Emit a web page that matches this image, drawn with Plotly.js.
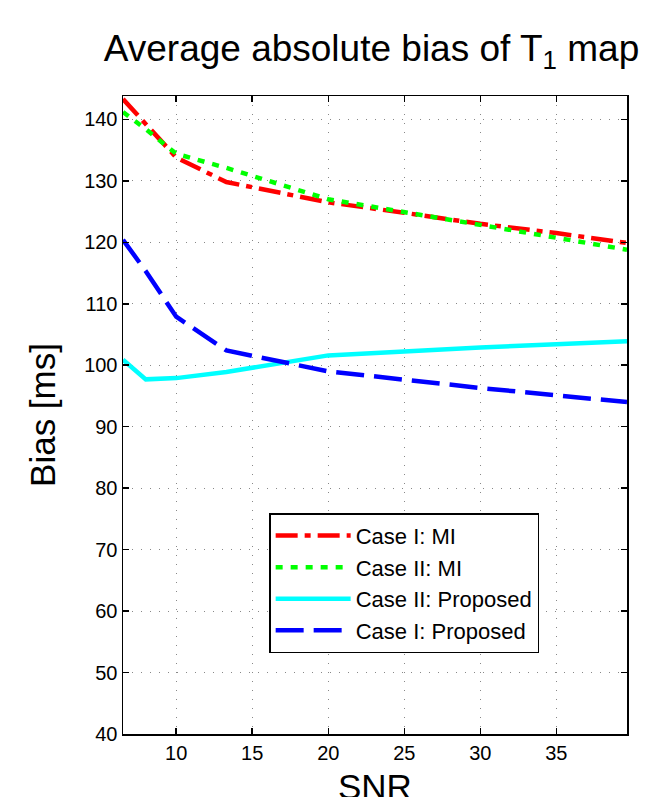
<!DOCTYPE html>
<html>
<head>
<meta charset="utf-8">
<script src="https://cdn.plot.ly/plotly-3.0.1.min.js"></script>
<style>html,body{margin:0;padding:0;background:#fff;}#chart{width:652px;height:797px;}</style>
</head>
<body>
<div id="chart"></div>
<script>
// SNR values
const snr = [6.5, 8, 10, 13.3, 20, 25, 30, 35, 39.65];
// Bias [ms]
const caseIMI = [143.3, 139.2, 133.8, 129.8, 126.5, 124.8, 123.0, 121.5, 119.9];
const caseIIMI = [141.2, 138.4, 134.4, 132.1, 127.0, 124.9, 122.7, 120.7, 118.8];
const caseIIProposed = [100.9, 97.7, 97.9, 98.9, 101.6, 102.3, 102.9, 103.4, 103.9];
const caseIProposed = [120.4, 115.3, 107.9, 102.4, 99.0, 97.6, 96.3, 95.1, 94.0];
const seriesNames = ['Case I: MI', 'Case II: MI', 'Case II: Proposed', 'Case I: Proposed'];
const xTicks = [10, 15, 20, 25, 30, 35];
const yTicks = [40, 50, 60, 70, 80, 90, 100, 110, 120, 130, 140];

const FONT = 'Liberation Sans, Arial, Helvetica, sans-serif';
const traces = [
  {x: snr, y: caseIMI, name: seriesNames[0], mode: 'lines',
   line: {color: '#ff0000', width: 4.5, dash: '22px,7px,6px,7px'}},
  {x: snr, y: caseIIMI, name: seriesNames[1], mode: 'lines',
   line: {color: '#00ff00', width: 4.5, dash: '7px,8px'}},
  {x: snr, y: caseIIProposed, name: seriesNames[2], mode: 'lines',
   line: {color: '#00ffff', width: 4.5}},
  {x: snr, y: caseIProposed, name: seriesNames[3], mode: 'lines',
   line: {color: '#0000ff', width: 4.5, dash: '28px,10px'}}
];

const axisCommon = {
  showline: true, linecolor: '#000', linewidth: 1.5, mirror: 'allticks',
  ticks: 'inside', ticklen: 6, tickwidth: 1.5, tickcolor: '#000',
  showgrid: true, gridcolor: '#888', gridwidth: 1, griddash: '1px,8px',
  zeroline: false, tickfont: {family: FONT, size: 20, color: '#000'}
};

const layout = {
  width: 652, height: 797,
  margin: {l: 123, r: 25, t: 96, b: 63},
  paper_bgcolor: '#fff', plot_bgcolor: '#fff',
  title: {text: 'Average absolute bias of T<sub>1</sub> map', font: {family: FONT, size: 37, color: '#000'},
          x: 0.493, xref: 'paper', xanchor: 'center', y: 0.94, yref: 'container', yanchor: 'middle'},
  xaxis: Object.assign({}, axisCommon, {range: [6.5, 39.65], tickvals: xTicks}),
  yaxis: Object.assign({}, axisCommon, {range: [40, 143.8], tickvals: yTicks,
    title: {text: 'Bias [ms]', font: {family: FONT, size: 35, color: '#000'}, standoff: 18}}),
  annotations: [{text: 'SNR', xref: 'paper', yref: 'paper', x: 0.5, y: -0.083,
    xanchor: 'center', yanchor: 'middle', showarrow: false,
    font: {family: FONT, size: 35, color: '#000'}}],
  showlegend: true,
  legend: {x: 0.29, y: 0.346, xanchor: 'left', yanchor: 'top', bgcolor: '#fff',
           bordercolor: '#000', borderwidth: 1.5, font: {family: FONT, size: 22, color: '#000'},
           itemwidth: 75, tracegroupgap: 0}
};

Plotly.newPlot('chart', traces, layout, {displayModeBar: false, staticPlot: true});
</script>
</body>
</html>
